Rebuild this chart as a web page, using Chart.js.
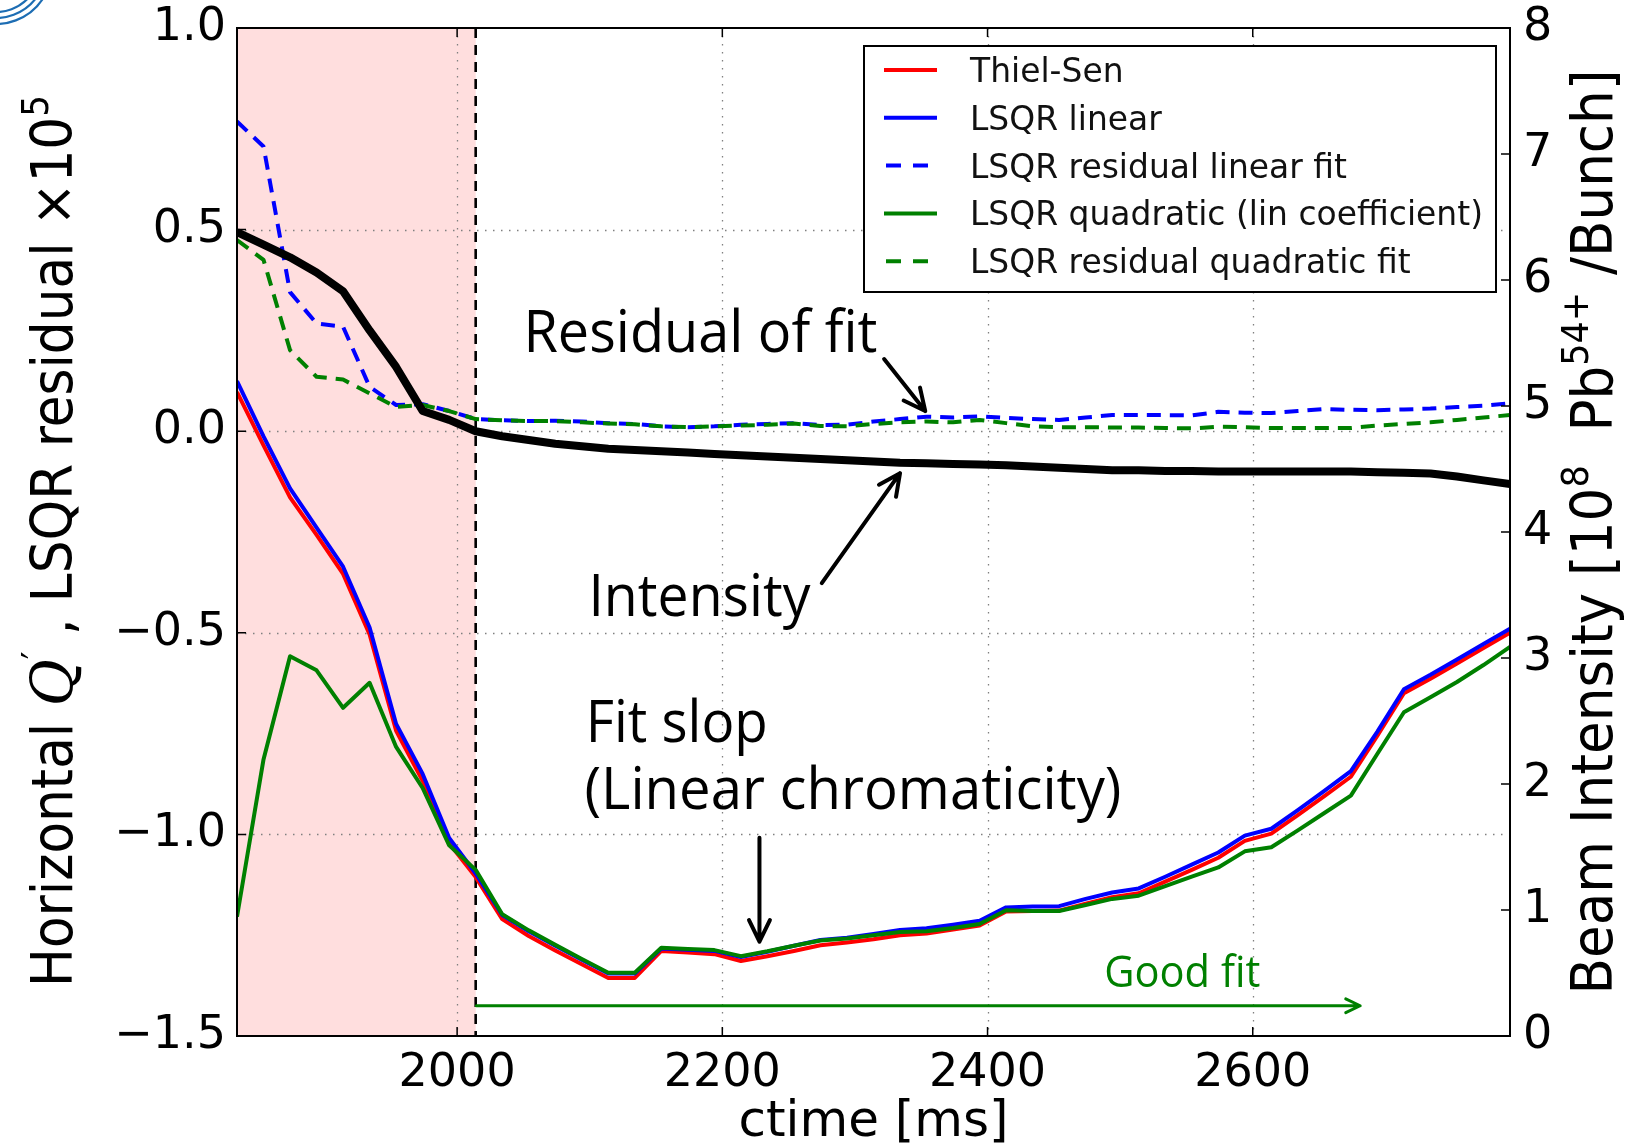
<!DOCTYPE html>
<html>
<head>
<meta charset="utf-8">
<script src="https://cdn.jsdelivr.net/npm/chart.js@4.4.1/dist/chart.umd.min.js"></script>
<style>
  html, body { margin: 0; padding: 0; background: #fff; }
  #wrap { width: 1631px; height: 1146px; }
</style>
</head>
<body>
<div id="wrap"><canvas id="chart" width="1631" height="1146"></canvas></div>
<script>
// ── DATI ─────────────────────────────────────

const ctime = [
  1834,1854,1874,1894,1914,1934,1954,1974,1994,2014,
  2034,2054,2074,2094,2114,2134,2154,2174,2194,2214,
  2234,2254,2274,2294,2314,2334,2354,2374,2394,2414,
  2434,2454,2474,2494,2514,2534,2554,2574,2594,2614,
  2634,2654,2674,2694,2714,2734,2754,2774,2794
];

const thielSen = [
  0.097,-0.035,-0.164,-0.257,-0.354,-0.504,-0.743,-0.867,-1.022,-1.106,
  -1.210,-1.252,-1.288,-1.322,-1.356,-1.356,-1.289,-1.293,-1.297,-1.314,
  -1.302,-1.289,-1.275,-1.268,-1.260,-1.250,-1.246,-1.236,-1.226,-1.191,
  -1.190,-1.189,-1.172,-1.156,-1.146,-1.117,-1.088,-1.058,-1.016,-0.998,
  -0.952,-0.905,-0.857,-0.755,-0.650,-0.614,-0.576,-0.538,-0.500
];

const lsqrLinear = [
  0.124,-0.013,-0.142,-0.239,-0.336,-0.487,-0.726,-0.850,-1.009,-1.097,
  -1.200,-1.240,-1.276,-1.311,-1.345,-1.345,-1.283,-1.286,-1.289,-1.304,
  -1.291,-1.276,-1.262,-1.256,-1.247,-1.237,-1.233,-1.224,-1.214,-1.181,
  -1.179,-1.178,-1.160,-1.144,-1.134,-1.105,-1.075,-1.045,-1.003,-0.986,
  -0.940,-0.892,-0.843,-0.745,-0.640,-0.604,-0.566,-0.528,-0.490
];

const residualLinear = [
  0.768,0.706,0.345,0.267,0.259,0.110,0.065,0.067,0.050,0.030,
  0.027,0.025,0.026,0.024,0.020,0.018,0.012,0.010,0.012,0.016,
  0.018,0.020,0.015,0.016,0.024,0.030,0.036,0.034,0.037,0.033,
  0.030,0.028,0.034,0.040,0.040,0.040,0.039,0.048,0.046,0.045,
  0.050,0.055,0.053,0.052,0.054,0.056,0.060,0.063,0.069
];

const lsqrQuadLin = [
  -1.204,-0.814,-0.558,-0.593,-0.686,-0.624,-0.783,-0.885,-1.027,-1.088,
  -1.198,-1.238,-1.274,-1.309,-1.343,-1.343,-1.281,-1.284,-1.287,-1.302,
  -1.290,-1.276,-1.263,-1.258,-1.250,-1.242,-1.240,-1.232,-1.222,-1.188,
  -1.190,-1.190,-1.175,-1.160,-1.152,-1.128,-1.105,-1.082,-1.042,-1.032,
  -0.990,-0.947,-0.904,-0.800,-0.697,-0.660,-0.622,-0.580,-0.535
];

const residualQuad = [
  0.474,0.425,0.201,0.135,0.128,0.094,0.060,0.065,0.050,0.030,
  0.027,0.025,0.025,0.022,0.019,0.017,0.012,0.010,0.012,0.014,
  0.016,0.019,0.013,0.012,0.018,0.022,0.024,0.022,0.028,0.020,
  0.012,0.010,0.010,0.009,0.009,0.008,0.007,0.011,0.010,0.008,
  0.008,0.008,0.008,0.014,0.018,0.022,0.028,0.034,0.040
];

// intensità fascio, asse destro [10^8 Pb54+/bunch]
const intensity = [
  6.38,6.28,6.18,6.06,5.91,5.60,5.31,4.96,4.89,4.80,
  4.76,4.73,4.70,4.68,4.66,4.65,4.64,4.63,4.62,4.61,
  4.60,4.59,4.58,4.57,4.56,4.55,4.545,4.54,4.535,4.53,
  4.52,4.51,4.50,4.49,4.49,4.485,4.485,4.48,4.48,4.48,
  4.48,4.48,4.48,4.475,4.47,4.465,4.44,4.41,4.38
];

const xTicks = [2000, 2200, 2400, 2600];
const yTicks = [-1.5, -1.0, -0.5, 0.0, 0.5, 1.0];
const y2Ticks = [0, 1, 2, 3, 4, 5, 6, 7, 8];

// zona fit non affidabile e linea di inizio "good fit"
const badFrom = 1834;
const badTo = 2014;

// annotazioni (coordinate in unità dati: ctime, asse sinistro)
const notes = [
  { text: 'Residual of fit', t: 2050, v: 0.196, size: 58, width: 354, color: '#000' },
  { text: 'Intensity', t: 2099, v: -0.459, size: 58, width: 222, color: '#000' },
  { text: 'Fit slop', t: 2097, v: -0.770, size: 58, width: 182, color: '#000' },
  { text: '(Linear chromaticity)', t: 2096, v: -0.938, size: 58, width: 537, color: '#000' },
  { text: 'Good fit', t: 2488, v: -1.378, size: 44, width: 156, color: '#008000' }
];

const arrows = [
  { from: [2322, 0.179], to: [2353, 0.050], color: '#000', width: 4, head: 24 },
  { from: [2275, -0.377], to: [2334, -0.104], color: '#000', width: 4, head: 24 },
  { from: [2228, -1.008], to: [2228, -1.266], color: '#000', width: 4, head: 24 },
  { from: [2014.5, -1.425], to: [2681, -1.425], color: '#008000', width: 3, head: 16 }
];

// ── UTILITY ──────────────────────────────────

const TICK_FONT = { family: 'DejaVu Sans', size: 46 };

function fmtTick(v) {
  return (v < 0 ? '\u2212' : '') + Math.abs(v).toFixed(1);
}

function pts(values) {
  return ctime.map((t, i) => ({ x: t, y: values[i] }));
}

function series(label, values, color, dashed, axis, order, width) {
  return {
    label: label,
    data: pts(values),
    borderColor: color,
    borderWidth: width || 4,
    borderDash: dashed ? [14, 9] : [],
    yAxisID: axis,
    order: order,
    pointRadius: 0,
    tension: 0,
    fill: false
  };
}

function partFont(p, size, family) {
  const s = p.sup ? size * 0.66 : size;
  return (p.italic ? 'italic ' : '') + s + 'px ' + (p.family || family);
}

function richWidth(ctx, parts, size, family) {
  let w = 0;
  parts.forEach(p => {
    ctx.font = partFont(p, size, family);
    w += ctx.measureText(p.t).width;
  });
  return w;
}

// testo (anche ruotato) con apici, compresso/allargato fino a "length"
function drawRich(ctx, parts, o) {
  const w = richWidth(ctx, parts, o.size, o.family);
  const k = o.length ? o.length / w : 1;
  ctx.save();
  ctx.translate(o.x, o.y);
  ctx.rotate(o.angle || 0);
  ctx.scale(k, 1);
  ctx.fillStyle = o.color || '#000';
  ctx.textAlign = 'left';
  ctx.textBaseline = 'alphabetic';
  let cx = o.anchor === 'center' ? -w / 2 : 0;
  parts.forEach(p => {
    ctx.font = partFont(p, o.size, o.family);
    ctx.fillText(p.t, cx, p.sup ? -o.size * 0.42 : 0);
    cx += ctx.measureText(p.t).width;
  });
  ctx.restore();
}

function drawArrow(ctx, x0, y0, x1, y1, color, width, head) {
  const ang = Math.atan2(y1 - y0, x1 - x0);
  const spread = 0.45;
  ctx.save();
  ctx.strokeStyle = color;
  ctx.lineWidth = width;
  ctx.lineCap = 'round';
  ctx.lineJoin = 'round';
  ctx.setLineDash([]);
  ctx.beginPath();
  ctx.moveTo(x0, y0);
  ctx.lineTo(x1, y1);
  ctx.moveTo(x1 - head * Math.cos(ang - spread), y1 - head * Math.sin(ang - spread));
  ctx.lineTo(x1, y1);
  ctx.lineTo(x1 - head * Math.cos(ang + spread), y1 - head * Math.sin(ang + spread));
  ctx.stroke();
  ctx.restore();
}

// niente margini extra dalle etichette: l'area del grafico resta fissa
function fixVertical(width) {
  return s => {
    s.width = width;
    s.paddingTop = 0;
    s.paddingBottom = 0;
  };
}

// ── PLUGIN DECORAZIONI ───────────────────────

const decor = {
  id: 'decor',
  beforeDatasetsDraw(chart) {
    const { ctx, chartArea: a, scales } = chart;
    const x = scales.x, y = scales.y;
    ctx.save();

    // banda rosa
    const bx0 = x.getPixelForValue(badFrom);
    const bx1 = x.getPixelForValue(badTo);
    ctx.fillStyle = '#ffdede';
    ctx.fillRect(bx0, a.top, bx1 - bx0, a.bottom - a.top);

    // griglia puntinata
    ctx.strokeStyle = '#808080';
    ctx.lineWidth = 1.3;
    ctx.setLineDash([1.5, 6.5]);
    ctx.beginPath();
    xTicks.forEach(v => {
      const px = Math.round(x.getPixelForValue(v)) + 0.5;
      ctx.moveTo(px, a.top);
      ctx.lineTo(px, a.bottom);
    });
    yTicks.forEach(v => {
      if (v === y.min || v === y.max) return;
      const py = Math.round(y.getPixelForValue(v)) + 0.5;
      ctx.moveTo(a.left, py);
      ctx.lineTo(a.right, py);
    });
    ctx.stroke();

    // linea tratteggiata verticale
    ctx.strokeStyle = '#000';
    ctx.lineWidth = 2.6;
    ctx.setLineDash([10, 7]);
    ctx.beginPath();
    ctx.moveTo(bx1, a.top);
    ctx.lineTo(bx1, a.bottom);
    ctx.stroke();
    ctx.restore();
  },

  afterDatasetsDraw(chart) {
    const { ctx, chartArea: a, scales } = chart;
    const x = scales.x, y = scales.y, y2 = scales.y2;
    ctx.save();

    // bordo del grafico
    ctx.setLineDash([]);
    ctx.strokeStyle = '#000';
    ctx.lineWidth = 2;
    ctx.strokeRect(a.left, a.top, a.right - a.left, a.bottom - a.top);

    // tacche verso l'interno
    ctx.lineWidth = 1.5;
    ctx.beginPath();
    xTicks.forEach(v => {
      const px = x.getPixelForValue(v);
      ctx.moveTo(px, a.bottom); ctx.lineTo(px, a.bottom - 9);
      ctx.moveTo(px, a.top); ctx.lineTo(px, a.top + 9);
    });
    yTicks.forEach(v => {
      const py = y.getPixelForValue(v);
      ctx.moveTo(a.left, py); ctx.lineTo(a.left + 9, py);
    });
    y2Ticks.forEach(v => {
      const py = y2.getPixelForValue(v);
      ctx.moveTo(a.right, py); ctx.lineTo(a.right - 9, py);
    });
    ctx.stroke();

    // frammento di logo in alto a sinistra
    ctx.strokeStyle = '#1d6db3';
    ctx.lineWidth = 2.2;
    [44, 50, 56].forEach(r => {
      ctx.beginPath();
      ctx.arc(-4, -32, r, 0.15 * Math.PI, 0.62 * Math.PI);
      ctx.stroke();
    });

    // legenda
    const lg = { x: 864, y: 46, w: 632, h: 246, row: 47.8, first: 70 };
    ctx.fillStyle = '#fff';
    ctx.fillRect(lg.x, lg.y, lg.w, lg.h);
    ctx.strokeStyle = '#000';
    ctx.lineWidth = 2;
    ctx.strokeRect(lg.x, lg.y, lg.w, lg.h);

    const items = chart.data.datasets.filter(d => d.yAxisID === 'y');
    ctx.font = '33px "DejaVu Sans"';
    const longest = Math.max(...items.map(d => ctx.measureText(d.label).width));
    const squeeze = 513 / longest;
    items.forEach((d, i) => {
      const ry = lg.first + i * lg.row;
      const dashed = d.borderDash.length > 0;
      ctx.strokeStyle = d.borderColor;
      ctx.lineWidth = 4;
      ctx.setLineDash(dashed ? [15, 12] : []);
      ctx.beginPath();
      ctx.moveTo(dashed ? 886 : 884, ry);
      ctx.lineTo(dashed ? 928 : 937, ry);
      ctx.stroke();
      ctx.setLineDash([]);
      drawRich(ctx, [{ t: d.label }], {
        x: 970, y: ry + 12, size: 33, family: '"DejaVu Sans"',
        length: ctx.measureText(d.label).width * squeeze, color: '#111'
      });
      ctx.font = '33px "DejaVu Sans"';
    });

    // titoli assi
    const fam = '"DejaVu Sans Condensed", "DejaVu Sans"';
    drawRich(ctx, [
      { t: 'Horizontal ' },
      { t: 'Q', italic: true, family: '"DejaVu Serif"' },
      { t: '\u2032', sup: true },
      { t: ' , LSQR residual ' },
      { t: '\u00d710' },
      { t: '5', sup: true }
    ], { x: 72, y: 541, angle: -Math.PI / 2, size: 57, family: fam, length: 892, anchor: 'center' });

    drawRich(ctx, [
      { t: 'Beam Intensity [10' },
      { t: '8', sup: true },
      { t: '  Pb' },
      { t: '54+', sup: true },
      { t: ' /Bunch]' }
    ], { x: 1612, y: 532, angle: -Math.PI / 2, size: 57, family: fam, length: 925, anchor: 'center' });

    drawRich(ctx, [{ t: 'ctime [ms]' }], {
      x: (a.left + a.right) / 2, y: 1136, size: 50, family: '"DejaVu Sans"', anchor: 'center'
    });

    // annotazioni e frecce
    notes.forEach(n => {
      drawRich(ctx, [{ t: n.text }], {
        x: x.getPixelForValue(n.t), y: y.getPixelForValue(n.v),
        size: n.size, family: '"Open Sans", Lato', length: n.width, color: n.color
      });
    });
    arrows.forEach(r => {
      drawArrow(ctx,
        x.getPixelForValue(r.from[0]), y.getPixelForValue(r.from[1]),
        x.getPixelForValue(r.to[0]), y.getPixelForValue(r.to[1]),
        r.color, r.width, r.head);
    });
    ctx.restore();
  }
};

// ── GRAFICO ──────────────────────────────────

new Chart(document.getElementById('chart'), {
  type: 'line',
  data: {
    datasets: [
      series('Thiel-Sen', thielSen, '#ff0000', false, 'y', 6),
      series('LSQR linear', lsqrLinear, '#0000ff', false, 'y', 5),
      series('LSQR residual linear fit', residualLinear, '#0000ff', true, 'y', 4),
      series('LSQR quadratic (lin coefficient)', lsqrQuadLin, '#008000', false, 'y', 3),
      series('LSQR residual quadratic fit', residualQuad, '#008000', true, 'y', 2),
      series('Intensity', intensity, '#000000', false, 'y2', 1, 8)
    ]
  },
  options: {
    responsive: false,
    animation: false,
    devicePixelRatio: 1,
    layout: { padding: { top: 28, left: 0, right: 0, bottom: 0 } },
    elements: { line: { borderJoinStyle: 'round', borderCapStyle: 'butt' } },
    plugins: {
      legend: { display: false },
      tooltip: { enabled: false }
    },
    scales: {
      x: {
        type: 'linear',
        min: ctime[0],
        max: ctime[ctime.length - 1],
        afterBuildTicks: s => { s.ticks = xTicks.map(v => ({ value: v })); },
        afterFit: s => { s.height = 110; s.paddingLeft = 0; s.paddingRight = 0; },
        grid: { display: false, drawTicks: false },
        border: { display: false },
        ticks: { font: TICK_FONT, color: '#000', padding: 10, maxRotation: 0, callback: v => String(v) }
      },
      y: {
        position: 'left',
        min: -1.5,
        max: 1.0,
        afterBuildTicks: s => { s.ticks = yTicks.map(v => ({ value: v })); },
        afterFit: fixVertical(237),
        grid: { display: false, drawTicks: false },
        border: { display: false },
        ticks: { font: TICK_FONT, color: '#000', padding: 11, callback: v => fmtTick(v) }
      },
      y2: {
        position: 'right',
        min: 0,
        max: 8,
        afterBuildTicks: s => { s.ticks = y2Ticks.map(v => ({ value: v })); },
        afterFit: fixVertical(121),
        grid: { display: false, drawTicks: false },
        border: { display: false },
        ticks: { font: TICK_FONT, color: '#000', padding: 13, callback: v => String(v) }
      }
    }
  },
  plugins: [decor]
});
</script>
</body>
</html>
